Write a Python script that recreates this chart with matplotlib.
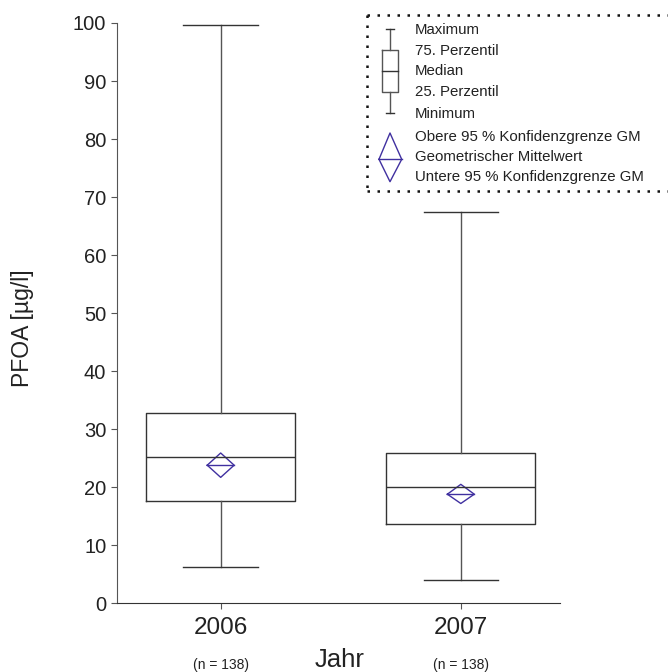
import numpy as np
import matplotlib
matplotlib.use("Agg")
import matplotlib.pyplot as plt

plt.rcParams['font.family'] = ['Liberation Sans', 'DejaVu Sans']

# data
years = ["2006", "2007"]
n_labels = ["(n = 138)", "(n = 138)"]
minimum = [6.3, 4.1]
q1 = [17.6, 13.6]
median = [25.2, 20.0]
q3 = [32.8, 25.9]
maximum = [99.7, 67.5]
gm = [23.8, 18.8]
gm_upper = [25.9, 20.5]
gm_lower = [21.7, 17.2]

legend_box = ["Maximum", "75. Perzentil", "Median", "25. Perzentil", "Minimum"]
legend_gm = ["Obere 95 % Konfidenzgrenze GM", "Geometrischer Mittelwert",
             "Untere 95 % Konfidenzgrenze GM"]

W, H = 668, 672
box_col = "#333333"
wh_col = "#555555"
gm_col = "#4030a0"

fig = plt.figure(figsize=(W / 100, H / 100), dpi=100)
ax = fig.add_axes([116.7 / W, 1 - 603.3 / H, (560 - 116.7) / W, (603.3 - 23) / H])

pos = np.arange(1, len(years) + 1)
stats = []
for i in range(len(years)):
    stats.append(dict(whislo=minimum[i], q1=q1[i], med=median[i], q3=q3[i],
                      whishi=maximum[i], fliers=[]))
ax.bxp(stats, positions=pos, widths=0.62, showfliers=False,
       boxprops=dict(color=box_col, lw=1.0),
       medianprops=dict(color=box_col, lw=1.0),
       whiskerprops=dict(color=wh_col, lw=1.0),
       capprops=dict(color=box_col, lw=1.0),
       capwidths=0.31)

# geometric mean diamonds
hw = 0.056
for p, g, up, lo in zip(pos, gm, gm_upper, gm_lower):
    ax.plot([p - hw, p, p + hw, p, p - hw], [g, up, g, lo, g], color=gm_col, lw=1.0)
    ax.plot([p - hw, p + hw], [g, g], color=gm_col, lw=1.0)

ax.set_xlim(0.567, 2.413)
ax.set_ylim(0, 100)
ax.set_yticks(np.arange(0, 101, 10))
ax.set_xticks(pos)
ax.set_xticklabels(years, fontsize=17.5, color="#222222")
ax.tick_params(axis="y", labelsize=14.5, labelcolor="#222222", length=4, color=wh_col)
ax.tick_params(axis="x", length=4, color=wh_col, pad=6)
for s in ["top", "right"]:
    ax.spines[s].set_visible(False)
ax.spines["left"].set_color(wh_col)
ax.spines["bottom"].set_color("#333333")

for p, t in zip(pos, n_labels):
    x_fig = ax.transData.transform((p, 0))[0] / W
    fig.text(x_fig, 1 - 665 / H, t, ha="center", va="center", fontsize=10, color="#222222")
fig.text(340 / W, 1 - 660 / H, "Jahr", ha="center", va="center", fontsize=18.5, color="#222222")
fig.text(23 / W, 1 - 328 / H, "PFOA [µg/l]", ha="center", va="center", rotation=90,
         fontsize=16.5, color="#222222")

# legend panel in pixel units
lx0, ly0 = 367, 15
leg = fig.add_axes([lx0 / W, 1 - 192 / H, (W - lx0) / W, (192 - ly0) / H])
leg.set_xlim(lx0, W)
leg.set_ylim(192, ly0)
leg.axis("off")
dot = dict(color="#111111", lw=1.8, ls=(0, (1, 3)), clip_on=False)
leg.plot([lx0, W], [ly0, ly0], **dot)
leg.plot([lx0, W], [191, 191], **dot)
leg.plot([lx0, lx0], [ly0, 191], **dot)

gx, gbl, gbr = 390, 381.7, 398.3
leg.plot([gx, gx], [29.3, 50], color=wh_col, lw=1.0)
leg.plot([gx, gx], [92, 112.7], color=wh_col, lw=1.0)
leg.plot([386, 394], [29.3, 29.3], color=box_col, lw=1.0)
leg.plot([386, 394], [112.7, 112.7], color=box_col, lw=1.0)
leg.plot([gbl, gbr, gbr, gbl, gbl], [50, 50, 92, 92, 50], color=wh_col, lw=1.0)
leg.plot([gbl, gbr], [70.7, 70.7], color=box_col, lw=1.0)
leg.plot([379, gx, 401.7, gx, 379], [159.3, 133, 159.3, 181.7, 159.3], color=gm_col, lw=1.0)
leg.plot([379, 401.7], [159.3, 159.3], color=gm_col, lw=1.0)

for t, y in zip(legend_box, [30, 50.7, 70.7, 92, 114]):
    leg.text(415, y, t, ha="left", va="center", fontsize=10.8, color="#222222")
for t, y in zip(legend_gm, [137, 157, 177]):
    leg.text(415, y, t, ha="left", va="center", fontsize=10.8, color="#222222")

fig.savefig("out.png", dpi=100)
